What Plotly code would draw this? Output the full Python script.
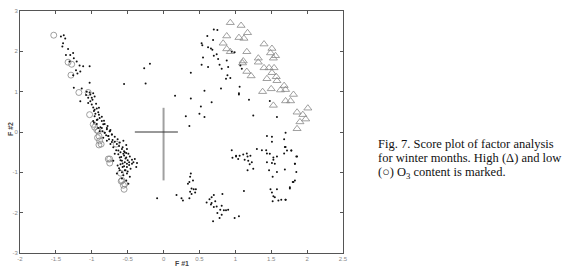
import plotly.graph_objects as go

# ---------------- data ----------------
dots_x = [
    -1.43, -1.39, -1.37, -1.40, -1.41, -1.33, -1.36, -1.30, -1.26, -1.25, -1.31, -1.21, -1.17, -1.12, -1.03,
    -1.22, -1.20, -1.16, -1.26, -1.03, -1.25, -1.14, -1.07, -1.03, -1.02, -0.98, -0.96, -1.05, -1.00, -1.02,
    -1.16, -0.98, -0.96, -0.93, -0.91, -0.90, -0.96, -0.89, -0.92, -0.86, -0.98, -0.84, -0.91, -0.79, -0.89,
    -0.75, -0.82, -0.72, -0.77, -0.55,
    -0.97, -0.93, -0.82, -0.86, -0.79, -0.82, -0.75, -0.77, -0.72, -0.84, -0.79, -0.71, -0.68, -0.74, -0.65,
    -0.61, -0.56, -0.52, -0.57, -0.51, -0.63, -0.60, -0.54, -0.56, -0.49, -0.61, -0.52, -0.47, -0.44, -0.40,
    -0.58, -0.54, -0.48, -0.51, -0.44, -0.64, -0.57, -0.51, -0.46, -0.61, -0.54, -0.65, -0.51, -0.56, -0.47,
    -0.58, -0.52, -0.49, -0.42, -0.37, -0.38, -0.68, -0.70,
    -0.62, -0.58, -0.55, -0.53, -0.60, -0.57, -0.50, -0.63, -0.66, -0.70, -0.55, -0.52, -0.59, -0.48, -0.55,
    -0.60, -0.62, -0.53, -0.58, -0.50, -0.72, -0.76, -0.80, -0.85, -0.88, -0.93, -0.95, -0.97, -1.00, -1.05,
    -0.99, -1.08, -0.94, -0.90, -0.86, -0.83, -0.78, -0.74, -0.68, -0.64,
    0.70, 0.75, 0.61, 0.69, 0.53, 0.62, 0.66, 0.68, 0.54, 0.74, 0.70, 0.55, 0.76, 0.88, 0.53,
    0.78, 0.62, 0.90, 0.81, 0.89, 0.87, 0.93, 1.05, 0.80, 0.38, -0.19, -0.27, -0.25, 0.16, 0.57,
    0.38, 0.67, 0.52, 0.50, 0.57, 0.31, 0.36,
    0.95, 0.96, 1.01, 1.04, 0.38, 0.36, 0.41, 0.39, 0.42, 0.45, 0.37, 0.44, 0.39, 0.36, 0.18,
    0.25, 0.27, -0.09, 0.67, 0.64, 0.70, 0.82, 0.60, 0.67, 0.74, 0.70, 0.81, 0.79, 0.84, 0.87,
    0.90, 0.75, 0.81, 0.78, 0.99, 1.05, 0.69, 0.66, 0.72, 0.37, 0.34,
    1.70, 1.68, 1.44, 1.51, 1.51, 1.69, 1.72, 1.78, 1.01, 1.06, 1.11, 1.16, 1.17, 1.21, 1.13,
    1.18, 1.23, 1.20, 1.25, 1.17, 1.30, 1.37, 1.43, 1.44, 1.48, 1.53, 1.58, 1.68, 1.86, 1.44,
    1.51, 1.55, 1.53, 1.69, 1.83, 1.47, 1.58, 1.85, 1.52, 1.80, 1.83, 1.76, 1.49, 1.58, 1.51,
    1.53, 1.55, 1.60, 1.64, 1.70, 1.52, 1.12,
    0.95, 0.99, 1.07, 1.09, 1.06, 1.05, 1.19, 1.48, 1.25, 1.58,
    1.70, 1.78, 1.85, 1.83, 1.81, 1.76, 1.70,
]
dots_y = [
    2.37, 2.40, 2.32, 2.20, 2.12, 2.06, 1.91, 1.91, 1.96, 1.83, 1.75, 1.75, 1.65, 1.63, 1.63,
    1.53, 1.45, 1.50, 1.41, 1.22, 1.10, 1.08, 1.00, 0.98, 0.93, 0.96, 0.88, 0.85, 0.85, 0.76,
    0.76, 0.61, 0.55, 0.58, 0.49, 0.43, 0.39, 0.35, 0.31, 0.27, 0.27, 0.19, 0.10, 0.10, 0.02,
    0.02, -0.02, -0.06, -0.10, 1.19,
    0.23, 0.20, 0.20, 0.10, 0.07, -0.02, 0.02, -0.10, -0.06, -0.14, -0.22, -0.20, -0.24, -0.30, -0.30,
    -0.26, -0.22, -0.32, -0.38, -0.42, -0.46, -0.50, -0.50, -0.54, -0.54, -0.63, -0.63, -0.61, -0.69, -0.67,
    -0.71, -0.75, -0.75, -0.79, -0.79, -0.83, -0.87, -0.87, -0.91, -0.95, -0.95, -1.03, -1.03, -1.07, -1.11,
    -1.15, -1.20, -1.28, -0.75, -0.77, -0.87, -0.54, -0.71,
    -0.35, -0.42, -0.58, -0.66, -0.70, -0.78, -0.70, -0.55, -0.45, -0.38, -0.48, -0.52, -0.62, -0.82, -0.85,
    -0.80, -0.90, -0.95, -1.00, -0.98, -0.25, -0.18, -0.08, 0.02, 0.12, 0.30, 0.45, 0.52, 0.68, 0.72,
    0.80, 0.92, 0.70, 0.60, 0.38, 0.28, 0.15, 0.05, -0.12, -0.18,
    2.54, 2.53, 2.38, 2.28, 2.20, 2.10, 2.07, 2.04, 2.15, 1.93, 1.89, 1.85, 1.81, 1.77, 1.67,
    1.67, 1.61, 1.61, 1.57, 1.41, 1.32, 1.34, 0.96, 1.08, 1.47, 1.69, 1.58, 1.20, 0.90, 1.02,
    0.83, 0.74, 0.63, 0.45, 0.37, 0.39, 0.15,
    -0.45, -0.64, -0.59, -0.67, -1.03, -1.24, -1.20, -1.40, -1.42, -1.42, -1.48, -1.50, -1.54, -1.64, -1.56,
    -1.64, -1.70, -1.64, -1.62, -1.67, -1.56, -1.54, -1.75, -1.76, -1.85, -1.86, -1.83, -1.93, -1.94, -1.94,
    -1.93, -2.01, -2.05, -2.13, -2.13, -2.09, -2.21, -1.80, -1.72, -1.11, -1.28,
    -0.02, -0.18, -0.10, -0.12, -0.24, -0.37, -0.46, -0.46, -0.61, -0.59, -0.56, -0.53, -0.61, -0.59, -0.69,
    -0.71, -0.75, -0.80, -0.91, -0.95, -0.42, -0.45, -0.45, -0.53, -0.54, -0.63, -0.61, -0.53, -0.61, -0.75,
    -0.77, -0.79, -0.69, -0.93, -0.79, -0.95, -0.99, -0.99, -1.11, -1.24, -1.20, -1.40, -1.42, -1.42, -1.50,
    -1.59, -1.62, -1.70, -1.68, -1.68, -1.72, -1.46,
    1.99, 1.98, 1.65, 1.57, 1.12, 0.93, 0.80, 0.77, 0.41, 0.37,
    -0.37, -0.46, -0.61, -0.79, -1.24, -1.37, -1.68,
]

high_x = [0.93, 1.08, 1.17, 0.88, 1.05, 1.12, 0.83, 1.40, 0.88, 0.93, 1.16, 1.51, 1.49, 1.56, 1.53,
          1.32, 1.32, 1.11, 1.10, 1.40, 1.47, 1.54, 1.51, 1.16, 1.22, 1.44, 1.57, 1.58, 1.68, 1.50,
          1.63, 1.70, 1.38, 1.81, 1.70, 1.77, 1.53, 1.86, 2.01, 1.94, 1.98, 1.90, 1.86]
high_y = [2.71, 2.64, 2.46, 2.38, 2.34, 2.32, 2.20, 2.18, 2.06, 1.99, 1.99, 2.07, 1.96, 1.89, 1.83,
          1.83, 1.73, 1.76, 1.71, 1.59, 1.59, 1.59, 1.47, 1.50, 1.39, 1.32, 1.37, 1.27, 1.15, 1.07,
          1.04, 1.05, 1.00, 0.93, 0.77, 0.77, 0.66, 0.49, 0.59, 0.43, 0.32, 0.25, 0.08]

low_x = [-1.53, -1.33, -1.28, -1.29, -1.18, -1.05, -1.03, -0.98, -0.96, -0.93, -0.91, -0.90, -0.92,
         -0.89, -0.90, -0.87, -0.75, -0.75, -0.77, -0.66, -0.60, -0.59, -0.58, -0.56, -0.55, -0.54]
low_y = [2.40, 1.73, 1.68, 1.41, 0.98, 0.98, 0.43, 0.19, 0.12, 0.05, 0.02, -0.10, -0.14,
         -0.22, -0.32, -0.30, -0.67, -0.77, -0.67, -0.30, -1.02, -1.22, -1.20, -1.32, -1.42, -1.29]

cross_h_x = [-0.4, 0.2]
cross_h_y = [0, 0]
cross_v_x = [0, 0]
cross_v_y = [-1.2, 0.6]

x_ticks = [-2, -1.5, -1, -0.5, 0, 0.5, 1, 1.5, 2, 2.5]
x_tick_labels = ["-2", "-1.5", "-1", "-0.5", "0", "0.5", "1", "1.5", "2", "2.5"]
y_ticks = [-3, -2, -1, 0, 1, 2, 3]
y_tick_labels = ["-3", "-2", "-1", "0", "1", "2", "3"]

caption_lines = [
    "Fig. 7. Score plot of factor analysis",
    "for winter months. High (\u0394) and low",
    "(\u25cb) O<sub>3</sub> content is marked.",
]

# ---------------- figure ----------------
fig = go.Figure()
fig.add_trace(go.Scatter(x=cross_v_x, y=cross_v_y, mode="lines",
                         line=dict(color="#a0a0a0", width=2), hoverinfo="skip"))
fig.add_trace(go.Scatter(x=cross_h_x, y=cross_h_y, mode="lines",
                         line=dict(color="#333333", width=1), hoverinfo="skip"))
fig.add_trace(go.Scatter(x=low_x, y=low_y, mode="markers",
                         marker=dict(symbol="circle-open", size=6, color="#888888",
                                     line=dict(width=0.8))))
fig.add_trace(go.Scatter(x=high_x, y=high_y, mode="markers",
                         marker=dict(symbol="triangle-up-open", size=7, color="#888888",
                                     line=dict(width=0.8))))
fig.add_trace(go.Scatter(x=dots_x, y=dots_y, mode="markers",
                         marker=dict(symbol="circle", size=2, color="#111111")))

axis_common = dict(showgrid=False, zeroline=False, showline=True, linecolor="#555555",
                   linewidth=1, mirror="ticks", ticks="inside", ticklen=3,
                   tickcolor="#555555", tickfont=dict(family="Arial", size=6, color="#888888"))
fig.update_xaxes(range=[-2, 2.5], tickvals=x_ticks, ticktext=x_tick_labels, **axis_common)
fig.update_yaxes(range=[-3, 3], tickvals=y_ticks, ticktext=y_tick_labels, **axis_common)

annotations = [
    dict(text="<b>F #1</b>", x=0.502, y=-0.045, xref="paper", yref="paper",
         showarrow=False, font=dict(family="Arial", size=7, color="#444444"),
         xanchor="center", yanchor="middle"),
    dict(text="<b>F #2</b>", x=-0.031, y=0.512, xref="paper", yref="paper",
         showarrow=False, textangle=-90, font=dict(family="Arial", size=7, color="#444444"),
         xanchor="center", yanchor="middle"),
]
for i, line in enumerate(caption_lines):
    annotations.append(dict(text=line, x=1.102, y=0.452 - i * 0.06, xref="paper", yref="paper",
                            showarrow=False, xanchor="left", yanchor="middle",
                            font=dict(family="Liberation Serif", size=12.5, color="#111111")))

fig.update_layout(width=577, height=270, margin=dict(l=20, r=234, t=8, b=16),
                  paper_bgcolor="white", plot_bgcolor="white", showlegend=False,
                  annotations=annotations)

fig.write_html("out.html", config={"displayModeBar": False},
               post_script="document.body.style.margin='0';document.body.style.overflow='hidden';")
